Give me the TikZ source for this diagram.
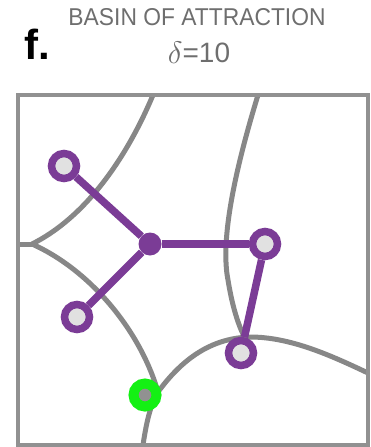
\documentclass[tikz,border=0pt]{standalone}
\usepackage{fontspec}
\setmainfont{Liberation Sans}
\definecolor{pur}{RGB}{123,60,150}
\definecolor{bnd}{RGB}{135,135,135}
\definecolor{frm}{RGB}{145,145,145}
\definecolor{nfill}{RGB}{225,225,225}
\definecolor{grn}{RGB}{20,240,20}
\definecolor{ttl}{RGB}{110,110,110}
\begin{document}
\begin{tikzpicture}[x=1pt,y=-1pt,
  leaf/.style={circle,draw=pur,fill=nfill,line width=7.5pt,minimum size=25pt,inner sep=0pt},
  hub/.style={circle,fill=pur,minimum size=23pt,inner sep=0pt},
  goal/.style={circle,draw=grn,fill=frm,line width=10pt,minimum size=23pt,inner sep=0pt},
  bline/.style={draw=bnd,line width=5pt},
  edge/.style={draw=pur,line width=7.5pt}]
\useasboundingbox (0,0) rectangle (370,447);
\node[anchor=center,text=ttl,inner sep=0pt] (title) at (197,17) {\resizebox{257pt}{17pt}{BASIN OF ATTRACTION}};
\node[anchor=center,text=ttl] (delta) at (199,53) {\fontsize{28pt}{30pt}\selectfont\raisebox{-1pt}{\scalebox{1.25}{$\delta$}}=10};
\node[anchor=center,font=\bfseries] (flabel) at (37,44) {\fontsize{42pt}{44pt}\selectfont f.};
% boundaries
\coordinate (j1) at (32,244);
\coordinate (j2) at (158,392);
\coordinate (j3) at (245,338);
\draw[bline] (153,95) .. controls (130,150) and (90,215) .. (j1);
\draw[bline] (j1) -- (18,244);
\draw[bline] (j1) .. controls (90,270) and (140,330) .. (j2);
\draw[bline] (143,445) .. controls (146,425) and (150,405) .. (j2);
\draw[bline] (j2) .. controls (185,355) and (215,338) .. (250,337) .. controls (290,337) and (330,355) .. (368,373);
\draw[bline] (258,95) .. controls (235,170) and (220,240) .. (228,280) .. controls (232,305) and (238,325) .. (j3);
\draw[draw=frm,line width=4pt] (18,95) rectangle (368,445);
% graph
\node[hub] (h) at (150,244) {};
\node[leaf] (tl) at (64,166) {};
\node[leaf] (r) at (265,244) {};
\node[leaf] (ll) at (77,317) {};
\node[leaf] (lr) at (241,353) {};
\node[goal] (g) at (145,395) {};
\draw[edge] (h) -- (tl);
\draw[edge] (h) -- (r);
\draw[edge] (h) -- (ll);
\draw[edge] (r) -- (lr);
\end{tikzpicture}
\end{document}
